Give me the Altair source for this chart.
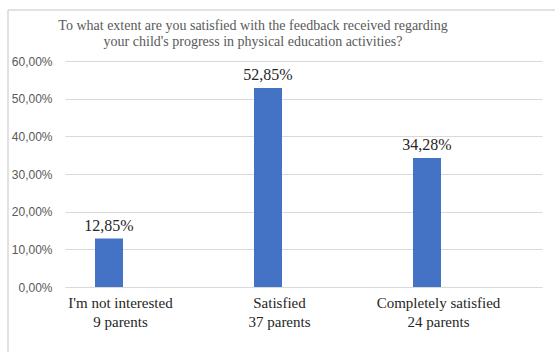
import altair as alt
import pandas as pd

categories = ["I'm not interested", "Satisfied", "Completely satisfied"]
parents = [9, 37, 24]
percents = [12.85, 52.85, 34.28]
y_ticks = [0, 10, 20, 30, 40, 50, 60]
title_lines = ["To what extent are you satisfied with the feedback received regarding",
               "your child's progress in physical  education activities?"]

SERIF = "'Liberation Serif', 'Times New Roman', Times, serif"

df = pd.DataFrame({
    "label": [f"{c}\n{n} parents" for c, n in zip(categories, parents)],
    "pct": percents,
})
title_df = pd.DataFrame({"t": ["\n".join(title_lines)]})

order = list(df["label"])
x_enc = alt.X("label:N", sort=order, title=None,
              scale=alt.Scale(paddingInner=0, paddingOuter=0),
              axis=alt.Axis(labelAngle=0, labelExpr="split(datum.label, '\\n')",
                            labelFont=SERIF, labelFontSize=15,
                            labelColor="#262626", labelLineHeight=19,
                            labelPadding=8, labelOffset=-24, ticks=False,
                            domainColor="#d9d9d9", domainWidth=1.2))
y_enc = alt.Y("pct:Q", title=None,
              scale=alt.Scale(domain=[0, 60], nice=False),
              axis=alt.Axis(values=y_ticks, ticks=False, domain=False,
                            labelOverlap=False, tickCount=7,
                            labelExpr="replace(format(datum.value, '.2f'), '.', ',') + '%'",
                            labelFont="Liberation Sans", labelFontSize=12,
                            labelColor="#595959", labelPadding=13,
                            gridColor="#d9d9d9", gridWidth=1.2))

bars = alt.Chart(df).mark_bar(width=28, xOffset=-35.5, color="#4472C4").encode(
    x=x_enc, y=y_enc)

text = alt.Chart(df).transform_calculate(
    txt="replace(format(datum.pct, '.2f'), '.', ',') + '%'"
).mark_text(xOffset=-35.5, dy=-8, baseline="alphabetic", align="center",
            font=SERIF, fontSize=16, color="#262626").encode(
    x=alt.X("label:N", sort=order), y="pct:Q", text="txt:N")

title = alt.Chart(title_df).mark_text(
    align="center", baseline="middle", lineBreak="\n", lineHeight=16,
    font=SERIF, fontSize=14, color="#595959").encode(
    x=alt.value(188), y=alt.value(-35), text="t:N")

border_top = alt.Chart(title_df).mark_rule(color="#d9d9d9", strokeWidth=1.5).encode(
    x=alt.value(-57), x2=alt.value(500), y=alt.value(-51))
border_left = alt.Chart(title_df).mark_rule(color="#d9d9d9", strokeWidth=1.5).encode(
    x=alt.value(-57), y=alt.value(-51), y2=alt.value(300))

chart = alt.layer(bars, text, title, border_top, border_left).properties(
    width=477, height=226,
    autosize=alt.AutoSizeParams(type="none"),
    padding={"left": 65, "top": 61, "right": 13, "bottom": 65},
    background="white",
).configure_view(stroke=None)

chart.save("out.html", embed_options={"renderer": "svg", "actions": False})
